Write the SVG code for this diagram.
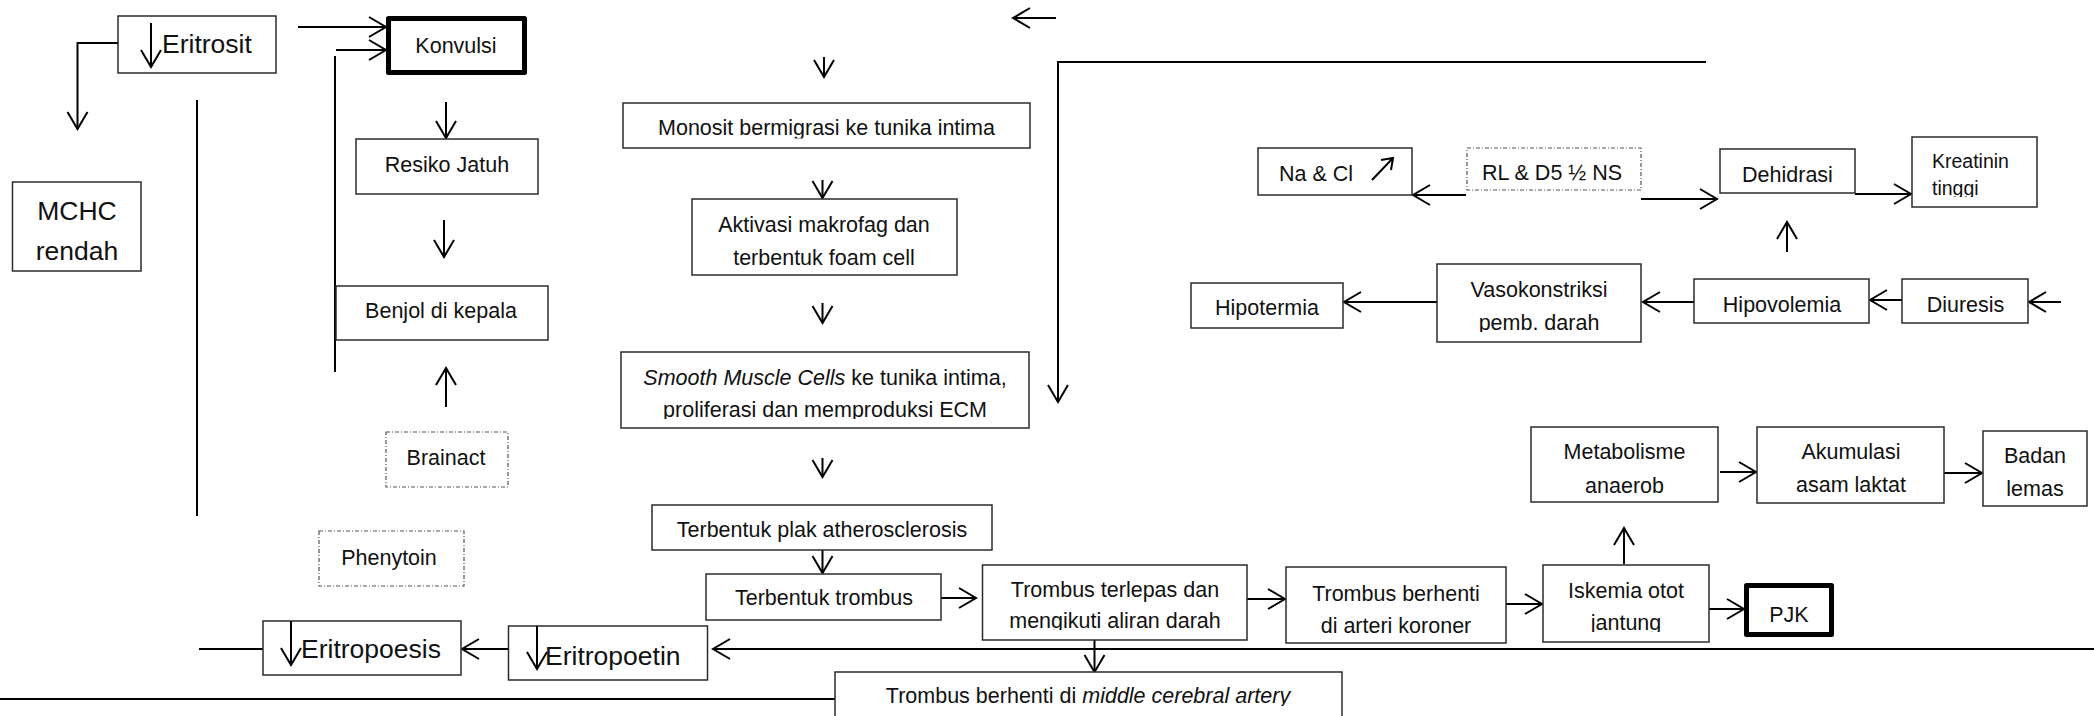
<svg xmlns="http://www.w3.org/2000/svg" width="2094" height="716" viewBox="0 0 2094 716">
  <defs>
    <style>
      .box { fill: #fff; stroke: #2b2b2b; stroke-width: 1.5; }
      .thick { fill: #fff; stroke: #000; stroke-width: 5; stroke-linejoin: round; }
      .dash { fill: #fff; stroke: #555; stroke-width: 1.2; stroke-dasharray: 4 2 1 2; }
      .t { font-family: "Liberation Sans", Arial, sans-serif; font-size: 21.5px; fill: #111; text-anchor: middle; }
      .big { font-size: 26.5px; }
      .sm { font-size: 19.5px; }
      .start { text-anchor: start; }
      .c { fill: none; stroke: #000; stroke-width: 2; }
      .arr { marker-end: url(#ah); }
    </style>
    <marker id="ah" markerUnits="userSpaceOnUse" viewBox="-20 -12 22 24" refX="0" refY="0" markerWidth="22" markerHeight="24" orient="auto" overflow="visible">
      <path d="M-17,-10 L0,0 L-17,10" fill="none" stroke="#000" stroke-width="2"/>
    </marker>
    <clipPath id="cl-monosit"><rect x="623" y="103" width="407" height="35.5"/></clipPath>
    <clipPath id="cl-aktivasi"><rect x="692" y="199" width="265" height="68"/></clipPath>
    <clipPath id="cl-smooth"><rect x="621" y="352" width="408" height="67"/></clipPath>
    <clipPath id="cl-terlepas"><rect x="982" y="565" width="265" height="65"/></clipPath>
    <clipPath id="cl-berhenti"><rect x="1286" y="567" width="220" height="68"/></clipPath>
    <clipPath id="cl-iskemia"><rect x="1543" y="565" width="166" height="67"/></clipPath>
    <clipPath id="cl-mca"><rect x="835" y="672" width="507" height="34"/></clipPath>
    <clipPath id="cl-akumulasi"><rect x="1757" y="427" width="187" height="67"/></clipPath>
    <clipPath id="cl-kreatinin"><rect x="1912" y="137" width="125" height="60"/></clipPath>
    <clipPath id="cl-vaso"><rect x="1437" y="264" width="204" height="68"/></clipPath>
  </defs>

  <rect width="2094" height="716" fill="#fff"/>

  <!-- connectors -->
  <g id="connectors">
    <path class="c arr" d="M118,43 H77.5 V129"/>
    <path class="c" d="M197,100 V516"/>
    <path class="c arr" d="M298,27 H386"/>
    <path class="c" d="M335,56 V372"/>
    <path class="c arr" d="M336,50 H386"/>
    <path class="c arr" d="M446,102 V138"/>
    <path class="c arr" d="M444,220 V257"/>
    <path class="c arr" d="M446,407 V368"/>
    <path class="c" d="M199,649 H263"/>
    <path class="c arr" d="M508.5,649 H462"/>
    <path class="c" d="M0,699 H835"/>

    <path class="c arr" d="M1056,18 H1013"/>
    <path class="c arr" d="M824,57 V77"/>
    <path class="c arr" d="M822.5,180 V198"/>
    <path class="c arr" d="M822.5,303 V323"/>
    <path class="c arr" d="M822.5,458 V477"/>
    <path class="c arr" d="M822.5,550 V573"/>
    <path class="c arr" d="M941,598 H976"/>
    <path class="c arr" d="M2094,649 H713"/>
    <path class="c arr" d="M1094.5,640 V672"/>
    <path class="c arr" d="M1247,599 H1285"/>
    <path class="c arr" d="M1506,604 H1542"/>
    <path class="c arr" d="M1624,564 V528"/>
    <path class="c arr" d="M1709,609 H1744"/>
    <path class="c arr" d="M1720,472 H1756"/>
    <path class="c arr" d="M1944,473 H1982"/>

    <path class="c arr" d="M1706,62 H1058 V402"/>
    <path class="c arr" d="M1466,195 H1413"/>
    <path class="c arr" d="M1641,199 H1717"/>
    <path class="c arr" d="M1855,194 H1911"/>
    <path class="c arr" d="M1787,252 V222"/>
    <path class="c arr" d="M1437,302 H1344"/>
    <path class="c arr" d="M1694,302 H1643"/>
    <path class="c arr" d="M1902,300 H1870"/>
    <path class="c arr" d="M2061,302 H2029"/>
  </g>

  <!-- left column -->
  <g id="eritrosit">
    <rect class="box" x="118" y="16" width="158" height="57"/>
    <path class="c arr" d="M151,23 V67"/>
    <text class="t big start" x="162" y="53">Eritrosit</text>
  </g>
  <g id="mchc">
    <rect class="box" x="12.5" y="182" width="128.5" height="89"/>
    <text class="t big" x="77" y="220">MCHC</text>
    <text class="t big" x="77" y="260">rendah</text>
  </g>
  <g id="konvulsi">
    <rect class="thick" x="388.5" y="18.5" width="136" height="54"/>
    <text class="t" x="456" y="53">Konvulsi</text>
  </g>
  <g id="resiko-jatuh">
    <rect class="box" x="356" y="139" width="182" height="55"/>
    <text class="t" x="447" y="172">Resiko Jatuh</text>
  </g>
  <g id="benjol">
    <rect class="box" x="336" y="286" width="212" height="54"/>
    <text class="t" x="441" y="318">Benjol di kepala</text>
  </g>
  <g id="brainact">
    <rect class="dash" x="386" y="432" width="122" height="55"/>
    <text class="t" x="446" y="465">Brainact</text>
  </g>
  <g id="phenytoin">
    <rect class="dash" x="319" y="531" width="145" height="55"/>
    <text class="t" x="389" y="565">Phenytoin</text>
  </g>
  <g id="eritropoesis">
    <rect class="box" x="263" y="621" width="198" height="54"/>
    <path class="c arr" d="M291,621 V665"/>
    <text class="t big start" x="301" y="658">Eritropoesis</text>
  </g>
  <g id="eritropoetin">
    <rect class="box" x="508.5" y="626" width="199" height="54"/>
    <path class="c arr" d="M537,626 V669"/>
    <text class="t big start" x="545" y="665">Eritropoetin</text>
  </g>

  <!-- atherosclerosis chain -->
  <g id="monosit">
    <rect class="box" x="623" y="103" width="407" height="45"/>
    <text class="t" x="826.5" y="135" clip-path="url(#cl-monosit)">Monosit bermigrasi ke tunika intima</text>
  </g>
  <g id="aktivasi">
    <rect class="box" x="692" y="199" width="265" height="76"/>
    <g clip-path="url(#cl-aktivasi)">
      <text class="t" x="824" y="232">Aktivasi makrofag dan</text>
      <text class="t" x="824" y="265">terbentuk foam cell</text>
    </g>
  </g>
  <g id="smooth-muscle">
    <rect class="box" x="621" y="352" width="408" height="76"/>
    <g clip-path="url(#cl-smooth)">
      <text class="t" x="825" y="385"><tspan font-style="italic">Smooth Muscle Cells</tspan> ke tunika intima,</text>
      <text class="t" x="825" y="417">proliferasi dan memproduksi ECM</text>
    </g>
  </g>
  <g id="plak">
    <rect class="box" x="652" y="505" width="340" height="45"/>
    <text class="t" x="822" y="537">Terbentuk plak atherosclerosis</text>
  </g>
  <g id="trombus">
    <rect class="box" x="706" y="574" width="235" height="46"/>
    <text class="t" x="824" y="605">Terbentuk trombus</text>
  </g>
  <g id="trombus-terlepas">
    <rect class="box" x="982.5" y="565" width="264.5" height="75"/>
    <g clip-path="url(#cl-terlepas)">
      <text class="t" x="1115" y="597">Trombus terlepas dan</text>
      <text class="t" x="1115" y="628">mengikuti aliran darah</text>
    </g>
  </g>
  <g id="trombus-koroner">
    <rect class="box" x="1286" y="567" width="220" height="76"/>
    <g clip-path="url(#cl-berhenti)">
      <text class="t" x="1396" y="601">Trombus berhenti</text>
      <text class="t" x="1396" y="633">di arteri koroner</text>
    </g>
  </g>
  <g id="iskemia">
    <rect class="box" x="1543" y="565" width="166" height="77"/>
    <g clip-path="url(#cl-iskemia)">
      <text class="t" x="1626" y="598">Iskemia otot</text>
      <text class="t" x="1626" y="630">jantung</text>
    </g>
  </g>
  <g id="pjk">
    <rect class="thick" x="1746.5" y="585.5" width="85" height="49"/>
    <text class="t" x="1789" y="622">PJK</text>
  </g>
  <g id="mca">
    <rect class="box" x="835" y="672" width="507" height="60"/>
    <text class="t" x="1088" y="703" clip-path="url(#cl-mca)">Trombus berhenti di <tspan font-style="italic">middle cerebral artery</tspan></text>
  </g>
  <g id="metabolisme">
    <rect class="box" x="1531" y="427" width="187" height="75"/>
    <text class="t" x="1624.5" y="459">Metabolisme</text>
    <text class="t" x="1624.5" y="493">anaerob</text>
  </g>
  <g id="akumulasi">
    <rect class="box" x="1757" y="427" width="187" height="76"/>
    <g clip-path="url(#cl-akumulasi)">
      <text class="t" x="1851" y="459">Akumulasi</text>
      <text class="t" x="1851" y="492">asam laktat</text>
    </g>
  </g>
  <g id="badan-lemas">
    <rect class="box" x="1983" y="431" width="104" height="75"/>
    <text class="t" x="2035" y="463">Badan</text>
    <text class="t" x="2035" y="496">lemas</text>
  </g>

  <!-- fluid / dehydration cluster -->
  <g id="na-cl">
    <rect class="box" x="1258" y="148" width="154" height="47"/>
    <text class="t start" x="1279" y="181">Na &amp; Cl</text>
    <path class="c" d="M1372,180 L1393,158 M1381,160 L1393,158 L1391,170"/>
  </g>
  <g id="rl-d5">
    <rect class="dash" x="1467" y="148" width="174" height="42"/>
    <text class="t" x="1552" y="180">RL &amp; D5 ½ NS</text>
  </g>
  <g id="dehidrasi">
    <rect class="box" x="1720" y="149" width="135" height="44"/>
    <text class="t" x="1787.5" y="182">Dehidrasi</text>
  </g>
  <g id="kreatinin">
    <rect class="box" x="1912" y="137" width="125" height="70"/>
    <g clip-path="url(#cl-kreatinin)">
      <text class="t sm start" x="1932" y="168">Kreatinin</text>
      <text class="t sm start" x="1932" y="195">tinggi</text>
    </g>
  </g>
  <g id="hipotermia">
    <rect class="box" x="1191" y="283" width="152" height="45"/>
    <text class="t" x="1267" y="315">Hipotermia</text>
  </g>
  <g id="vasokonstriksi">
    <rect class="box" x="1437" y="264" width="204" height="78"/>
    <g clip-path="url(#cl-vaso)">
      <text class="t" x="1539" y="297">Vasokonstriksi</text>
      <text class="t" x="1539" y="330">pemb. darah</text>
    </g>
  </g>
  <g id="hipovolemia">
    <rect class="box" x="1694" y="279" width="175" height="44"/>
    <text class="t" x="1782" y="312">Hipovolemia</text>
  </g>
  <g id="diuresis">
    <rect class="box" x="1902" y="279" width="126" height="44"/>
    <text class="t" x="1965.5" y="312">Diuresis</text>
  </g>
</svg>
